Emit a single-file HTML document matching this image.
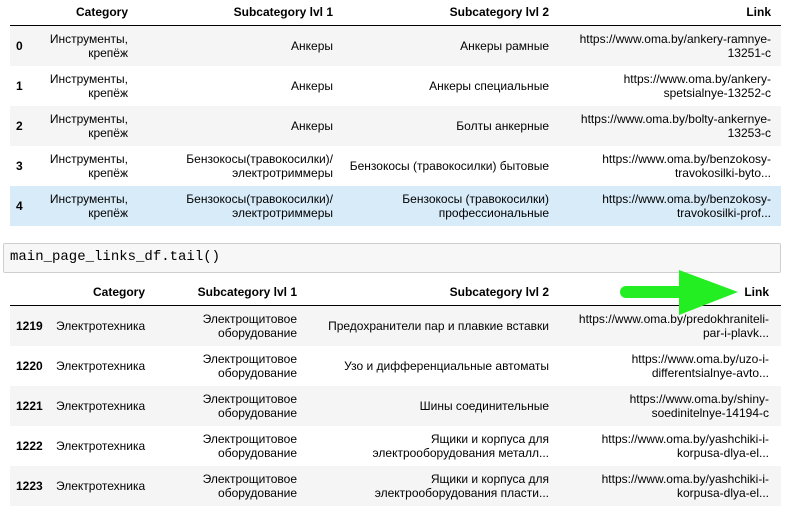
<!DOCTYPE html>
<html><head><meta charset="utf-8"><style>
body{margin:0;width:792px;height:513px;background:#fff;font-family:"Liberation Sans","DejaVu Sans",sans-serif;font-size:12px;color:#000;position:relative;overflow:hidden}
.a{position:absolute;line-height:14px}
.r{text-align:right}
.b{font-weight:bold}
.row{position:absolute;left:10px;width:771px;height:40px}
.g{background:#f5f5f5}
.sel{background:#d7ebf9}
.line{position:absolute;left:10px;width:771px;height:1px;background:#000}
</style></head><body>
<div class="a b r" style="left:0;width:128px;top:5px">Category</div>
<div class="a b r" style="left:150px;width:183px;top:5px">Subcategory lvl 1</div>
<div class="a b r" style="left:340px;width:209px;top:5px">Subcategory lvl 2</div>
<div class="a b r" style="left:560px;width:211px;top:5px">Link</div>
<div class="line" style="top:25px"></div>
<div class="row g" style="top:26px"></div>
<div class="row" style="top:66px"></div>
<div class="row g" style="top:106px"></div>
<div class="row" style="top:146px"></div>
<div class="row sel" style="top:186px"></div>

<div class="a b" style="left:16px;top:39px">0</div>
<div class="a b" style="left:16px;top:79px">1</div>
<div class="a b" style="left:16px;top:119px">2</div>
<div class="a b" style="left:16px;top:159px">3</div>
<div class="a b" style="left:16px;top:199px">4</div>

<div class="a r" style="left:20px;width:108px;top:32px">Инструменты,<br>крепёж</div>
<div class="a r" style="left:20px;width:108px;top:72px">Инструменты,<br>крепёж</div>
<div class="a r" style="left:20px;width:108px;top:112px">Инструменты,<br>крепёж</div>
<div class="a r" style="left:20px;width:108px;top:152px">Инструменты,<br>крепёж</div>
<div class="a r" style="left:20px;width:108px;top:192px">Инструменты,<br>крепёж</div>

<div class="a r" style="left:140px;width:193px;top:39px">Анкеры</div>
<div class="a r" style="left:140px;width:193px;top:79px">Анкеры</div>
<div class="a r" style="left:140px;width:193px;top:119px">Анкеры</div>
<div class="a r" style="left:140px;width:193px;top:152px">Бензокосы(травокосилки)/<br>электротриммеры</div>
<div class="a r" style="left:140px;width:193px;top:192px">Бензокосы(травокосилки)/<br>электротриммеры</div>

<div class="a r" style="left:340px;width:209px;top:39px">Анкеры рамные</div>
<div class="a r" style="left:340px;width:209px;top:79px">Анкеры специальные</div>
<div class="a r" style="left:340px;width:209px;top:119px">Болты анкерные</div>
<div class="a r" style="left:340px;width:209px;top:159px">Бензокосы (травокосилки) бытовые</div>
<div class="a r" style="left:340px;width:209px;top:192px">Бензокосы (травокосилки)<br>профессиональные</div>

<div class="a r" style="left:560px;width:211px;top:32px">https://www.oma.by/ankery-ramnye-<br>13251-c</div>
<div class="a r" style="left:560px;width:211px;top:72px">https://www.oma.by/ankery-<br>spetsialnye-13252-c</div>
<div class="a r" style="left:560px;width:211px;top:112px">https://www.oma.by/bolty-ankernye-<br>13253-c</div>
<div class="a r" style="left:560px;width:211px;top:152px">https://www.oma.by/benzokosy-<br>travokosilki-byto...</div>
<div class="a r" style="left:560px;width:211px;top:192px">https://www.oma.by/benzokosy-<br>travokosilki-prof...</div>

<div style="position:absolute;left:3px;top:243px;width:776px;height:28px;background:#f7f7f7;border:1px solid #cfcfcf;border-radius:2px"></div>
<div class="a" style="left:10px;top:250px;font-family:'Liberation Mono',monospace;font-size:14px">main_page_links_df.tail()</div>

<div class="a b r" style="left:0;width:145px;top:285px">Category</div>
<div class="a b r" style="left:150px;width:147px;top:285px">Subcategory lvl 1</div>
<div class="a b r" style="left:310px;width:239px;top:285px">Subcategory lvl 2</div>
<div class="a b r" style="left:560px;width:209px;top:285px">Link</div>
<div class="line" style="top:305px"></div>
<div class="row g" style="top:306px"></div>
<div class="row" style="top:346px"></div>
<div class="row g" style="top:386px"></div>
<div class="row" style="top:426px"></div>
<div class="row g" style="top:466px"></div>

<div class="a b" style="left:16px;top:319px">1219</div>
<div class="a b" style="left:16px;top:359px">1220</div>
<div class="a b" style="left:16px;top:399px">1221</div>
<div class="a b" style="left:16px;top:439px">1222</div>
<div class="a b" style="left:16px;top:479px">1223</div>

<div class="a" style="left:56px;top:319px">Электротехника</div>
<div class="a" style="left:56px;top:359px">Электротехника</div>
<div class="a" style="left:56px;top:399px">Электротехника</div>
<div class="a" style="left:56px;top:439px">Электротехника</div>
<div class="a" style="left:56px;top:479px">Электротехника</div>

<div class="a r" style="left:150px;width:147px;top:312px">Электрощитовое<br>оборудование</div>
<div class="a r" style="left:150px;width:147px;top:352px">Электрощитовое<br>оборудование</div>
<div class="a r" style="left:150px;width:147px;top:392px">Электрощитовое<br>оборудование</div>
<div class="a r" style="left:150px;width:147px;top:432px">Электрощитовое<br>оборудование</div>
<div class="a r" style="left:150px;width:147px;top:472px">Электрощитовое<br>оборудование</div>

<div class="a r" style="left:310px;width:239px;top:319px">Предохранители пар и плавкие вставки</div>
<div class="a r" style="left:310px;width:239px;top:359px">Узо и дифференциальные автоматы</div>
<div class="a r" style="left:310px;width:239px;top:399px">Шины соединительные</div>
<div class="a r" style="left:310px;width:239px;top:432px">Ящики и корпуса для<br>электрооборудования металл...</div>
<div class="a r" style="left:310px;width:239px;top:472px">Ящики и корпуса для<br>электрооборудования пласти...</div>

<div class="a r" style="left:560px;width:209px;top:312px">https://www.oma.by/predokhraniteli-<br>par-i-plavk...</div>
<div class="a r" style="left:560px;width:209px;top:352px">https://www.oma.by/uzo-i-<br>differentsialnye-avto...</div>
<div class="a r" style="left:560px;width:209px;top:392px">https://www.oma.by/shiny-<br>soedinitelnye-14194-c</div>
<div class="a r" style="left:560px;width:209px;top:432px">https://www.oma.by/yashchiki-i-<br>korpusa-dlya-el...</div>
<div class="a r" style="left:560px;width:209px;top:472px">https://www.oma.by/yashchiki-i-<br>korpusa-dlya-el...</div>

<svg style="position:absolute;left:0;top:0" width="792" height="513">
<line x1="626" y1="292" x2="690" y2="292" stroke="#22ee22" stroke-width="12" stroke-linecap="round"/>
<polygon points="679,270 738,292 679,315" fill="#22ee22"/>
</svg>
</body></html>
